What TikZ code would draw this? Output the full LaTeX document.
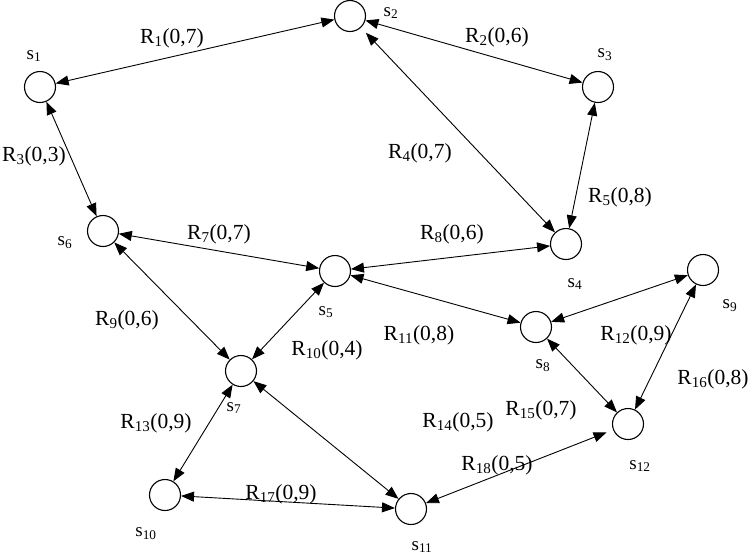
\documentclass[tikz,border=0pt]{standalone}
\usepackage{fontspec}
\setmainfont{Liberation Serif}
\usetikzlibrary{arrows.meta}
\begin{document}
\begin{tikzpicture}[x=1pt,y=-1pt,
  st/.style={draw,circle,minimum size=31pt,inner sep=0pt,line width=1.1pt},
  rl/.style={inner sep=0pt,font=\fontsize{21.5}{24}\selectfont},
  sl/.style={inner sep=0pt,font=\fontsize{19}{22}\selectfont},
  edge/.style={line width=0.9pt,{Triangle[length=13pt,width=10pt]}-{Triangle[length=13pt,width=10pt]}}]
\useasboundingbox (0,0) rectangle (750,558);
% states
\node[st] (s1) at (40,87) {};
\node[st] (s2) at (350,16) {};
\node[st] (s3) at (598,87) {};
\node[st] (s4) at (566,244) {};
\node[st] (s5) at (335,271) {};
\node[st] (s6) at (103,231) {};
\node[st] (s7) at (241,371) {};
\node[st] (s8) at (536,327) {};
\node[st] (s9) at (703,270) {};
\node[st] (s10) at (165,495) {};
\node[st] (s11) at (411,509) {};
\node[st] (s12) at (628,424) {};
% state labels
\node[sl] (l1) at (34,56) {s\textsubscript{1}};
\node[sl] (l2) at (391,13) {s\textsubscript{2}};
\node[sl] (l3) at (605,55) {s\textsubscript{3}};
\node[sl] (l4) at (575,284) {s\textsubscript{4}};
\node[sl] (l5) at (326,312) {s\textsubscript{5}};
\node[sl] (l6) at (65,243) {s\textsubscript{6}};
\node[sl] (l7) at (234,408) {s\textsubscript{7}};
\node[sl] (l8) at (543,366) {s\textsubscript{8}};
\node[sl] (l9) at (730,306) {s\textsubscript{9}};
\node[sl] (l10) at (146,534) {s\textsubscript{10}};
\node[sl] (l11) at (422,547) {s\textsubscript{11}};
\node[sl] (l12) at (640,466) {s\textsubscript{12}};
% edges
\draw[edge] (s1) -- (s2);
\draw[edge] (s2) -- (s3);
\draw[edge] (s1) -- (s6);
\draw[edge,shorten <=7pt] (s2) -- (s4);
\draw[edge] (s3) -- (s4);
\draw[edge] (s6) -- (s5);
\draw[edge] (s5) -- (s4);
\draw[edge] (s6) -- (s7);
\draw[edge] (s5) -- (s7);
\draw[edge] (s5) -- (s8);
\draw[edge] (s8) -- (s9);
\draw[edge] (s7) -- (s10);
\draw[edge] (s7) -- (s11);
\draw[edge] (s8) -- (s12);
\draw[edge] (s9) -- (s12);
\draw[edge] (s10) -- (s11);
\draw[edge,shorten >=7pt] (s11) -- (s12);
% edge labels
\node[rl] (r1) at (172,38) {R\textsubscript{1}(0,7)};
\node[rl] (r2) at (497,37) {R\textsubscript{2}(0,6)};
\node[rl] (r3) at (34,156) {R\textsubscript{3}(0,3)};
\node[rl] (r4) at (420,153) {R\textsubscript{4}(0,7)};
\node[rl] (r5) at (620,197) {R\textsubscript{5}(0,8)};
\node[rl] (r7) at (219,234) {R\textsubscript{7}(0,7)};
\node[rl] (r8) at (452,234) {R\textsubscript{8}(0,6)};
\node[rl] (r9) at (127,320) {R\textsubscript{9}(0,6)};
\node[rl] (r10) at (327,350) {R\textsubscript{10}(0,4)};
\node[rl] (r11) at (419,335) {R\textsubscript{11}(0,8)};
\node[rl] (r12) at (636,335) {R\textsubscript{12}(0,9)};
\node[rl] (r13) at (156,423) {R\textsubscript{13}(0,9)};
\node[rl] (r14) at (458,422) {R\textsubscript{14}(0,5)};
\node[rl] (r15) at (541,410) {R\textsubscript{15}(0,7)};
\node[rl] (r16) at (713,379) {R\textsubscript{16}(0,8)};
\node[rl] (r17) at (281,494) {R\textsubscript{17}(0,9)};
\node[rl] (r18) at (497,465) {R\textsubscript{18}(0,5)};
\end{tikzpicture}
\end{document}
